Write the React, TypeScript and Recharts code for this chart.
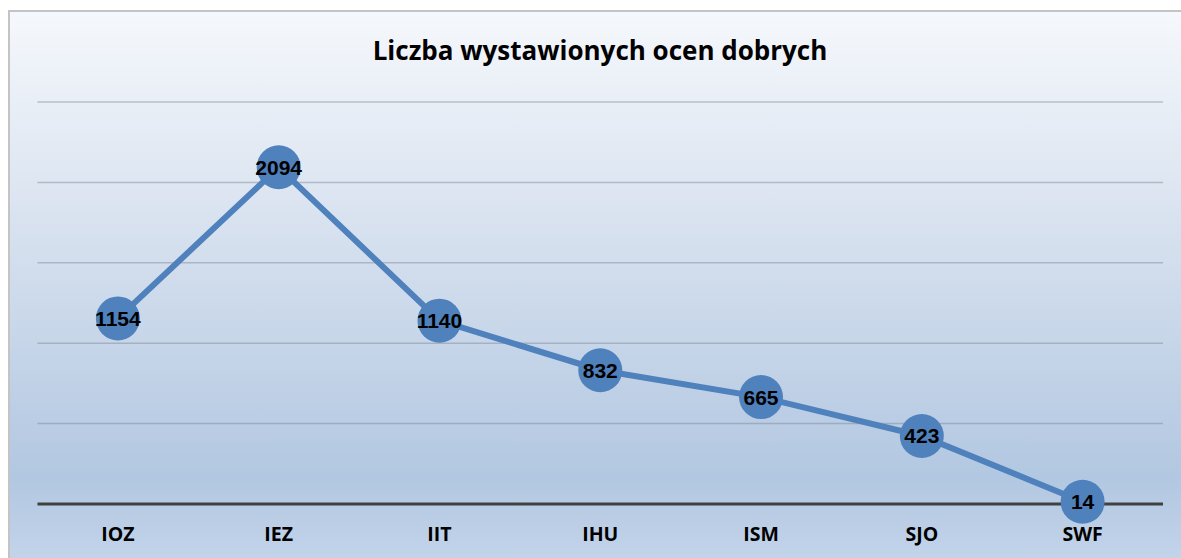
import React from 'react';
import { LineChart, Line, XAxis, YAxis, CartesianGrid, LabelList } from 'recharts';

const categories = ['IOZ', 'IEZ', 'IIT', 'IHU', 'ISM', 'SJO', 'SWF'];
const values = [1154, 2094, 1140, 832, 665, 423, 14];
const yTicks = [0, 500, 1000, 1500, 2000, 2500];
const title = 'Liczba wystawionych ocen dobrych';

const data = categories.map((c, i) => ({ name: c, value: values[i] }));

const Tick = (props: any) => {
  const { x, y, payload } = props;
  return (
    <text x={x} y={y + 29} textAnchor="middle" fill="#000" fontSize={19.5} fontWeight="bold" fontFamily="'Open Sans', sans-serif">
      {payload.value}
    </text>
  );
};

export default function App() {
  return (
    <div
      style={{
        position: 'fixed',
        left: 8,
        top: 10,
        width: 1171,
        height: 548,
        overflow: 'hidden',
        borderTop: '2px solid #c4c4c4',
        borderLeft: '2px solid #c4c4c4',
        background: 'linear-gradient(to bottom, #f5f8fc 0%, #dfe7f2 30%, #b2c7e1 85%, #c3d4ea 100%)',
      }}
    >
      <div
        style={{
          position: 'absolute',
          left: 0,
          top: 20,
          width: 1180,
          textAlign: 'center',
          fontFamily: "'Open Sans', sans-serif",
          fontWeight: 'bold',
          fontSize: 26,
          color: '#000',
        }}
      >
        {title}
      </div>
      <LineChart
        width={1170}
        height={540}
        data={data}
        margin={{ top: 90, right: 17, bottom: 18, left: 27.5 }}
      >
        <CartesianGrid vertical={false} stroke="#7d8694" strokeOpacity={0.45} strokeWidth={1.5} />
        <YAxis hide domain={[0, 2500]} ticks={yTicks} />
        <XAxis
          dataKey="name"
          height={30}
          padding={{ left: 80.4, right: 80.4 }}
          axisLine={{ stroke: '#404040', strokeWidth: 3 }}
          tickLine={false}
          tick={<Tick />}
          interval={0}
        />
        <Line
          type="linear"
          dataKey="value"
          stroke="#4f81bd"
          strokeWidth={6}
          dot={{ r: 22, fill: '#4f81bd', stroke: 'none' }}
          activeDot={false}
          isAnimationActive={false}
        >
          <LabelList
            dataKey="value"
            position="center"
            fill="#000"
            fontSize={21}
            fontWeight="bold"
            fontFamily="'Liberation Sans', sans-serif"
          />
        </Line>
      </LineChart>
    </div>
  );
}
